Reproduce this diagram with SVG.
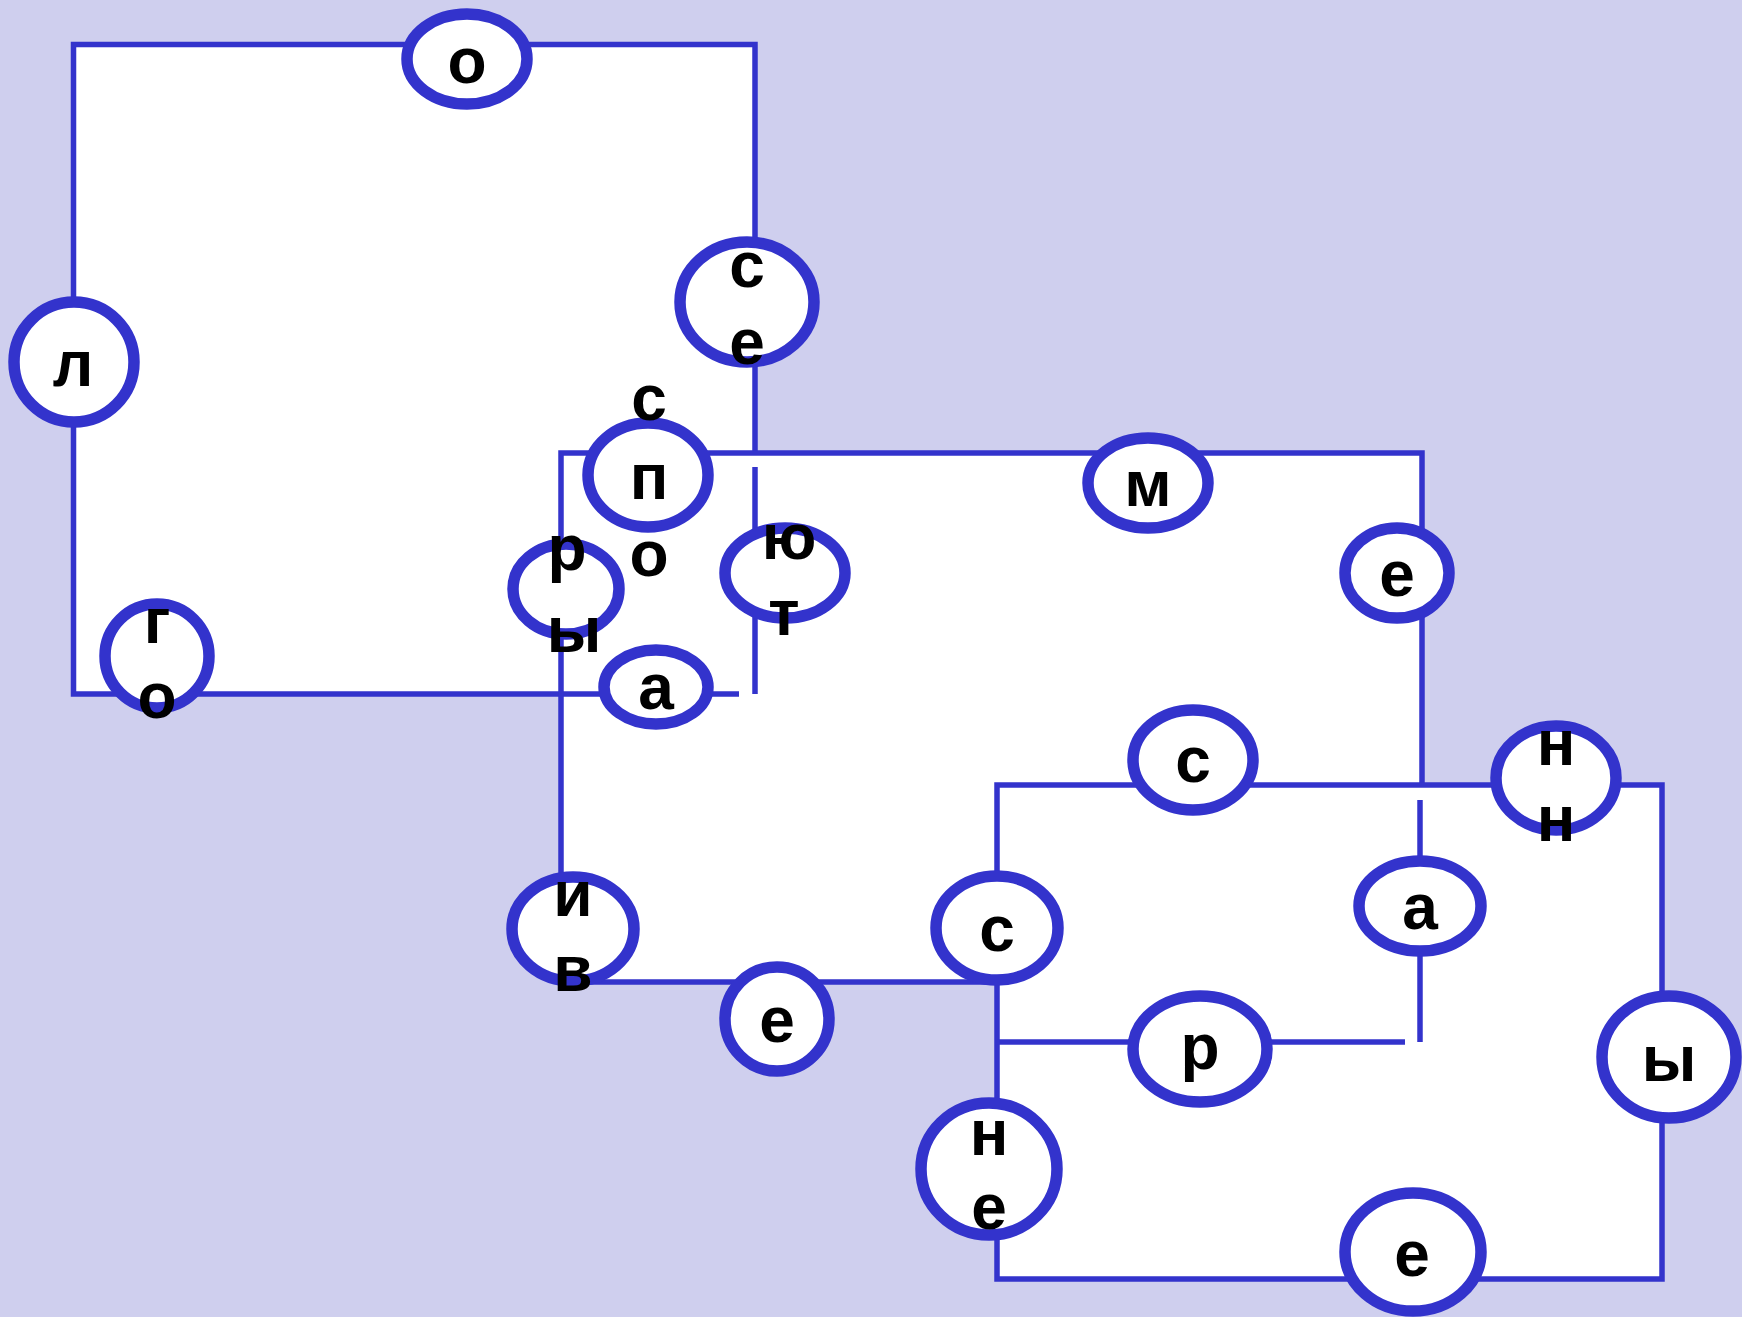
<svg xmlns="http://www.w3.org/2000/svg" width="1742" height="1317" viewBox="0 0 1742 1317">
<style>
.bg{fill:#CFCFEE}
.panel{fill:#FFFFFF;stroke:none}
.ln{fill:none;stroke:#3333CC;stroke-width:5.5;stroke-linecap:butt;stroke-linejoin:miter}
.nd ellipse{fill:#FFFFFF;stroke:#3333CC;stroke-width:11.5}
.nd text{font-family:"Liberation Sans",Arial,sans-serif;font-weight:bold;font-size:64px;fill:#000000;text-anchor:middle}
</style>
<rect class="bg" x="0" y="0" width="1742" height="1317"/>
<g id="panels">
<rect class="panel" x="73" y="44" width="682" height="650"/>
<rect class="panel" x="561" y="453" width="861" height="529"/>
<rect class="panel" x="997" y="785" width="665" height="494"/>
</g>
<g id="connectors">
<polyline class="ln" points="755,453 755,44.5 73.5,44.5 73.5,694 739,694"/>
<line class="ln" x1="755" y1="467" x2="755" y2="694"/>
<polyline class="ln" points="1422,785 1422,453 561,453 561,982 997,982"/>
<rect class="ln" x="997" y="785" width="665" height="494"/>
<line class="ln" x1="1420" y1="800" x2="1420" y2="1042"/>
<line class="ln" x1="997" y1="1042" x2="1405" y2="1042"/>
</g>
<g id="n-o1" class="nd"><ellipse cx="467" cy="59" rx="60" ry="45"/><text x="467" y="83">о</text></g>
<g id="n-l" class="nd"><ellipse cx="74" cy="362" rx="60" ry="60"/><text x="73" y="386">л</text></g>
<g id="n-se" class="nd"><ellipse cx="747" cy="302" rx="67" ry="60"/><text x="747" y="287">с</text><text x="747" y="364">е</text></g>
<g id="n-go" class="nd"><ellipse cx="157" cy="656" rx="52" ry="52"/><text x="157" y="643">г</text><text x="157" y="718">о</text></g>
<g id="n-p" class="nd"><ellipse cx="648" cy="475" rx="60" ry="52"/><text x="649" y="420">с</text><text x="649" y="499">п</text><text x="649" y="576">о</text></g>
<g id="n-m" class="nd"><ellipse cx="1148" cy="483" rx="60" ry="45"/><text x="1148" y="506">м</text></g>
<g id="n-e1" class="nd"><ellipse cx="1397" cy="573" rx="52" ry="45"/><text x="1397" y="596">е</text></g>
<g id="n-ry" class="nd"><ellipse cx="566" cy="589" rx="53" ry="45"/><text x="567" y="570">р</text><text x="574" y="652">ы</text></g>
<g id="n-yut" class="nd"><ellipse cx="785" cy="573" rx="60" ry="45"/><text x="789" y="559">ю</text><text x="784" y="635">т</text></g>
<g id="n-a1" class="nd"><ellipse cx="656" cy="687" rx="52" ry="37"/><text x="656" y="709">а</text></g>
<g id="n-iv" class="nd"><ellipse cx="573" cy="929" rx="61" ry="52"/><text x="573" y="916">и</text><text x="573" y="991">в</text></g>
<g id="n-e2" class="nd"><ellipse cx="777" cy="1019" rx="52" ry="52"/><text x="777" y="1042">е</text></g>
<g id="n-s2" class="nd"><ellipse cx="997" cy="928" rx="61" ry="52"/><text x="997" y="951">с</text></g>
<g id="n-s3" class="nd"><ellipse cx="1193" cy="760" rx="60" ry="50"/><text x="1193" y="782">с</text></g>
<g id="n-nn" class="nd"><ellipse cx="1556" cy="778" rx="60" ry="52"/><text x="1556" y="765">н</text><text x="1556" y="841">н</text></g>
<g id="n-a2" class="nd"><ellipse cx="1420" cy="906" rx="61" ry="45"/><text x="1420" y="929">а</text></g>
<g id="n-r" class="nd"><ellipse cx="1200" cy="1049" rx="67" ry="53"/><text x="1200" y="1069">р</text></g>
<g id="n-y" class="nd"><ellipse cx="1669" cy="1057" rx="67" ry="61"/><text x="1669" y="1081">ы</text></g>
<g id="n-ne" class="nd"><ellipse cx="989" cy="1169" rx="68" ry="66"/><text x="989" y="1155">н</text><text x="989" y="1229">е</text></g>
<g id="n-e3" class="nd"><ellipse cx="1413" cy="1252" rx="68" ry="59"/><text x="1412" y="1276">е</text></g>
</svg>
